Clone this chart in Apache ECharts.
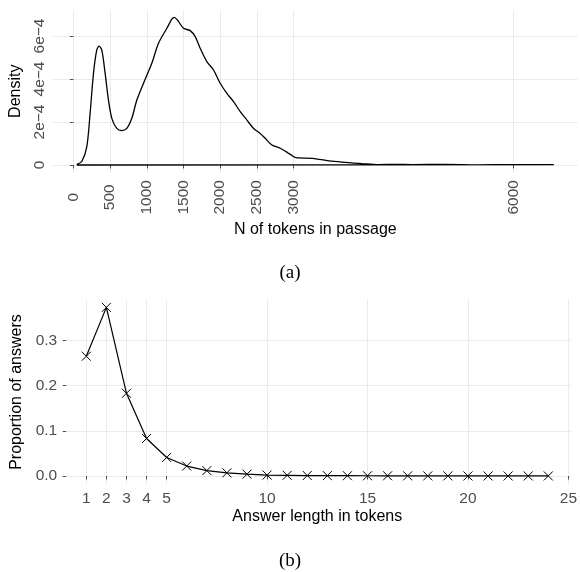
<!DOCTYPE html>
<html>
<head>
<meta charset="utf-8">
<script src="https://cdn.jsdelivr.net/npm/echarts@6/dist/echarts.min.js"></script>
<style>html,body{margin:0;padding:0;background:#fff}#c{width:580px;height:572px}</style>
</head>
<body>
<div id="c"></div>
<script>
// (a) density of passage length
const densityX = [45,114,182,227,273,318,350,386,432,477,523,591,659,727,795,864,955,1068,1159,1273,1341,1373,1418,1500,1591,1659,1727,1818,1909,2000,2091,2182,2273,2364,2455,2545,2614,2705,2818,2896,2964,3032,3258,3483,3709,3935,4161,4387,4613,5065,5517,5969,6547];
const densityY = [0.03e-4,0.16e-4,0.85e-4,2.4e-4,4.26e-4,5.35e-4,5.53e-4,5.35e-4,4.26e-4,3.02e-4,2.17e-4,1.7e-4,1.6e-4,1.7e-4,2.17e-4,3.02e-4,3.8e-4,4.73e-4,5.66e-4,6.36e-4,6.78e-4,6.87e-4,6.74e-4,6.36e-4,6.25e-4,5.97e-4,5.43e-4,4.81e-4,4.42e-4,3.8e-4,3.33e-4,2.95e-4,2.48e-4,2.09e-4,1.7e-4,1.47e-4,1.24e-4,0.93e-4,0.78e-4,0.62e-4,0.47e-4,0.34e-4,0.31e-4,0.19e-4,0.12e-4,0.06e-4,0.015e-4,0.03e-4,0.015e-4,0.03e-4,0.01e-4,0.015e-4,0.015e-4];
const passageTicks = [0,500,1000,1500,2000,2500,3000,6000];
const densityTicks = [0,2e-4,4e-4,6e-4];
const densityTickLabels = ['0','2e\u22124','4e\u22124','6e\u22124'];

// (b) answer length
const answerLen = [1,2,3,4,5,6,7,8,9,10,11,12,13,14,15,16,17,18,19,20,21,22,23,24];
const answerProp = [0.265,0.373,0.183,0.083,0.041,0.022,0.012,0.007,0.004,0.002,0.0015,0.001,0.0008,0.0006,0.0005,0.0004,0.0003,0.0002,0.0002,0.0001,0.0001,0.0001,0.0001,0.0001];
const lenTicks = [1,2,3,4,5,10,15,20,25];
const propTicks = [0,0.1,0.2,0.3];

const densityData = densityX.map((x,i)=>[x,densityY[i]]);
densityData.push([densityX[densityX.length-1],0],[densityX[0],0]);
const answerData = answerLen.map((x,i)=>[x,answerProp[i]]);

const chart = echarts.init(document.getElementById('c'), null, {renderer:'canvas'});
const F = 'Liberation Sans, Arial, sans-serif';
const grid = '#ebebeb', lab = '#4d4d4d', tick = '#4d4d4d';
const cross = 'path://M0,0L10,10M10,0L0,10';
const TS = 15.5, NS = 16;

chart.setOption({
  backgroundColor:'#fff',
  animation:false,
  textStyle:{fontFamily:F},
  grid:[
    {left:52.8, right:2.3, top:10.2, bottom:572-172.3},
    {left:63.2, right:0.6, top:299.7, bottom:572-484.4}
  ],
  xAxis:[
    {type:'value', gridIndex:0, min:-280, max:6872,
     axisLine:{show:false},
     axisTick:{show:true, length:3.5, lineStyle:{color:tick}, customValues:passageTicks},
     axisLabel:{rotate:90, align:'center', margin:25, color:lab, fontSize:TS, fontFamily:F, customValues:passageTicks, formatter:v=>String(v)},
     splitLine:{show:true, lineStyle:{color:grid, width:1}},
     name:'N of tokens in passage', nameLocation:'middle', nameGap:49,
     nameTextStyle:{color:'#000', fontSize:NS, fontFamily:F}},
    {type:'value', gridIndex:1, min:-0.15, max:25.15,
     axisLine:{show:false},
     axisTick:{show:true, length:3.5, lineStyle:{color:tick}, customValues:lenTicks},
     axisLabel:{margin:6, color:lab, fontSize:TS, fontFamily:F, customValues:lenTicks, formatter:v=>String(v)},
     splitLine:{show:true, lineStyle:{color:grid, width:1}},
     name:'Answer length in tokens', nameLocation:'middle', nameGap:24,
     nameTextStyle:{color:'#000', fontSize:NS, fontFamily:F}}
  ],
  yAxis:[
    {type:'value', gridIndex:0, min:-0.34e-4, max:7.2e-4,
     axisLine:{show:false},
     axisTick:{show:true, length:3.5, lineStyle:{color:tick}, customValues:densityTicks},
     axisLabel:{rotate:90, margin:5, color:lab, fontSize:TS, fontFamily:F, customValues:densityTicks,
       formatter:v=>{const i=densityTicks.findIndex(t=>Math.abs(t-v)<1e-9);return i>=0?densityTickLabels[i]:'';}},
     splitLine:{show:true, lineStyle:{color:grid, width:1}},
     name:'Density', nameLocation:'middle', nameGap:26,
     nameTextStyle:{color:'#000', fontSize:NS, fontFamily:F}},
    {type:'value', gridIndex:1, min:-0.0186, max:0.39,
     axisLine:{show:false},
     axisTick:{show:true, length:3.5, lineStyle:{color:tick}, customValues:propTicks},
     axisLabel:{margin:6, color:lab, fontSize:TS, fontFamily:F, customValues:propTicks, formatter:v=>v.toFixed(1)},
     splitLine:{show:true, lineStyle:{color:grid, width:1}},
     name:'Proportion of answers', nameLocation:'middle', nameGap:36,
     nameTextStyle:{color:'#000', fontSize:NS, fontFamily:F}}
  ],
  title:[
    {text:'(a)', left:'center', top:259, textStyle:{fontFamily:'Liberation Serif, Times New Roman, serif', fontWeight:'normal', fontSize:19, color:'#000'}},
    {text:'(b)', left:'center', top:547, textStyle:{fontFamily:'Liberation Serif, Times New Roman, serif', fontWeight:'normal', fontSize:19, color:'#000'}}
  ],
  series:[
    {type:'line', xAxisIndex:0, yAxisIndex:0, data:densityData, showSymbol:false, symbol:'none',
     smooth:0.3, lineStyle:{color:'#000', width:1.3}},
    {type:'line', xAxisIndex:1, yAxisIndex:1, data:answerData, symbol:cross, symbolSize:9, showSymbol:true,
     lineStyle:{color:'#000', width:1.2}, itemStyle:{color:'none', borderColor:'#000', borderWidth:1}}
  ]
});
</script>
</body>
</html>
